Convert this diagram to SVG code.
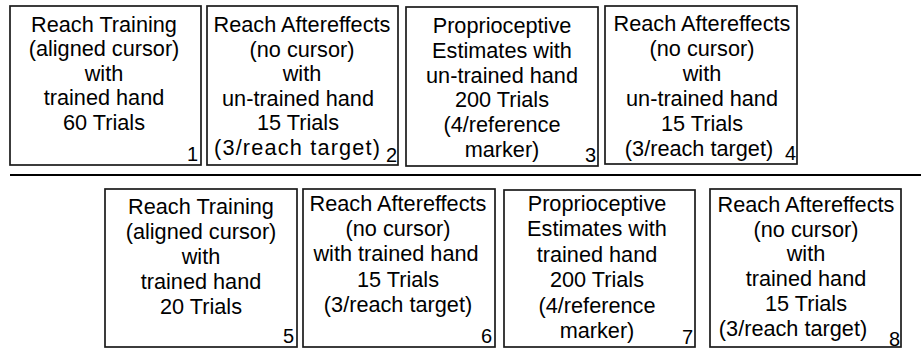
<svg xmlns="http://www.w3.org/2000/svg" width="922" height="350" viewBox="0 0 922 350">
<style>
.box{fill:#fff;stroke:#1a1a1a;stroke-width:1.7}
.t{font-family:"Liberation Sans",Arial,sans-serif;font-size:21.7px;fill:#000;text-anchor:middle}
.n{font-family:"Liberation Sans",Arial,sans-serif;font-size:20px;fill:#000;text-anchor:end}
</style>
<rect width="922" height="350" fill="#fff"/>
<g id="connectors">
<line x1="10" y1="175" x2="921" y2="175" stroke="#000" stroke-width="2.2"/>
</g>
<g id="node1">
<rect class="box" x="10" y="6" width="191" height="159"/>
<text class="t"><tspan x="104" y="32">Reach Training</tspan><tspan x="104" dy="24.4">(aligned cursor)</tspan><tspan x="104" dy="24.4">with</tspan><tspan x="104" dy="24.4">trained hand</tspan><tspan x="104" dy="24.4">60 Trials</tspan></text>
<text class="n" x="198" y="161">1</text>
</g>
<g id="node2">
<rect class="box" x="207" y="6" width="191" height="159"/>
<text class="t"><tspan x="302" y="32">Reach Aftereffects</tspan><tspan x="302" dy="24.6">(no cursor)</tspan><tspan x="302" dy="24.6">with</tspan><tspan x="298" dy="24.6">un-trained hand</tspan><tspan x="298" dy="24.6">15 Trials</tspan></text>
<text class="t" x="297" y="155" textLength="166" lengthAdjust="spacing">(3/reach target)</text>
<text class="n" x="397" y="162">2</text>
</g>
<g id="node3">
<rect class="box" x="406" y="7" width="192" height="159"/>
<text class="t"><tspan x="502" y="33">Proprioceptive</tspan><tspan x="502" dy="24.8">Estimates with</tspan><tspan x="502" dy="24.8">un-trained hand</tspan><tspan x="502" dy="24.8">200 Trials</tspan><tspan x="502" dy="24.8">(4/reference</tspan><tspan x="502" dy="24.8">marker)</tspan></text>
<text class="n" x="596" y="162">3</text>
</g>
<g id="node4">
<rect class="box" x="605" y="6" width="192" height="158"/>
<text class="t"><tspan x="702" y="31">Reach Aftereffects</tspan><tspan x="702" dy="25">(no cursor)</tspan><tspan x="702" dy="25">with</tspan><tspan x="702" dy="25">un-trained hand</tspan><tspan x="702" dy="25">15 Trials</tspan><tspan x="699" dy="25">(3/reach target)</tspan></text>
<text class="n" x="796" y="160">4</text>
</g>
<g id="node5">
<rect class="box" x="105" y="189" width="192" height="158"/>
<text class="t"><tspan x="201" y="214">Reach Training</tspan><tspan x="201" dy="25">(aligned cursor)</tspan><tspan x="201" dy="25">with</tspan><tspan x="201" dy="25">trained hand</tspan><tspan x="201" dy="25">20 Trials</tspan></text>
<text class="n" x="294" y="343">5</text>
</g>
<g id="node6">
<rect class="box" x="303" y="189" width="192" height="158"/>
<text class="t"><tspan x="398" y="211">Reach Aftereffects</tspan><tspan x="398" dy="25.2">(no cursor)</tspan><tspan x="396" dy="25.2">with trained hand</tspan><tspan x="398" dy="25.2">15 Trials</tspan><tspan x="398" dy="25.2">(3/reach target)</tspan></text>
<text class="n" x="492" y="343">6</text>
</g>
<g id="node7">
<rect class="box" x="504" y="190" width="191" height="157"/>
<text class="t"><tspan x="597" y="211">Proprioceptive</tspan><tspan x="597" dy="25.4">Estimates with</tspan><tspan x="597" dy="25.4">trained hand</tspan><tspan x="597" dy="25.4">200 Trials</tspan><tspan x="597" dy="25.4">(4/reference</tspan><tspan x="597" dy="25.4">marker)</tspan></text>
<text class="n" x="693" y="344">7</text>
</g>
<g id="node8">
<rect class="box" x="710" y="189" width="191" height="158"/>
<text class="t"><tspan x="806" y="212">Reach Aftereffects</tspan><tspan x="806" dy="24.7">(no cursor)</tspan><tspan x="806" dy="24.7">with</tspan><tspan x="806" dy="24.7">trained hand</tspan><tspan x="806" dy="24.7">15 Trials</tspan><tspan x="793" dy="24.7">(3/reach target)</tspan></text>
<text class="n" x="900" y="346">8</text>
</g>
</svg>
